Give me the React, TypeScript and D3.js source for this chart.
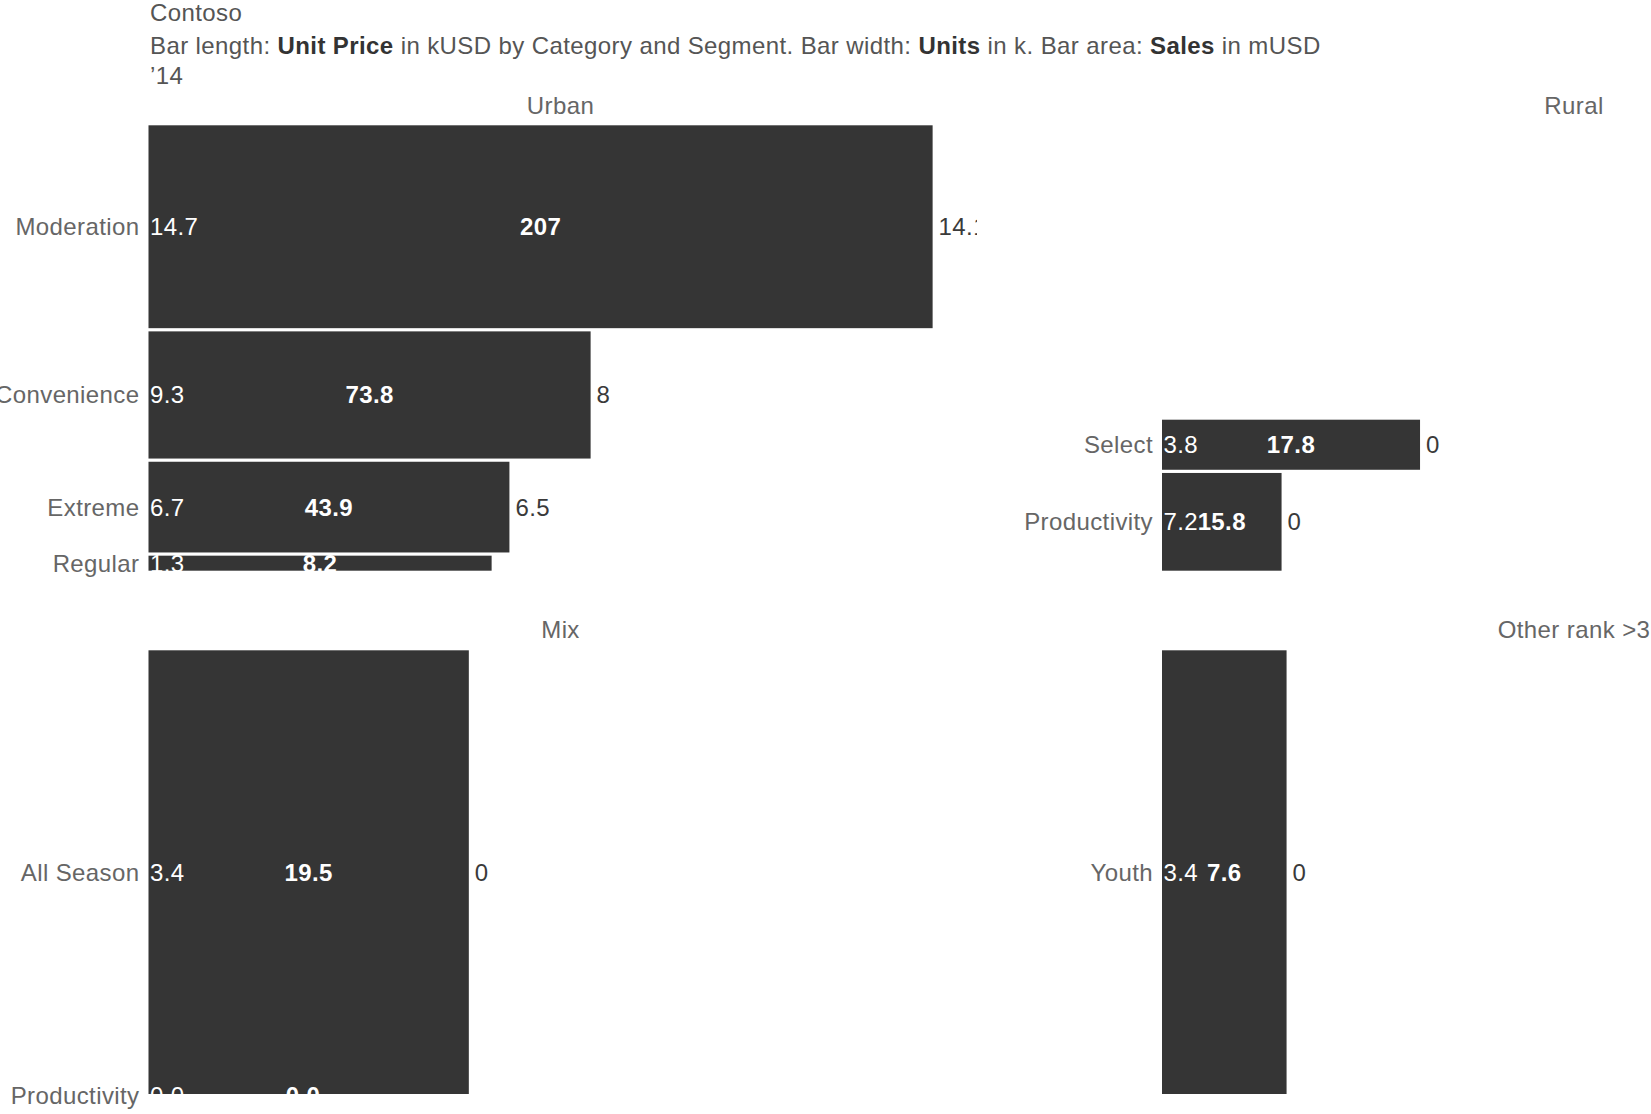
import React from "react";
import * as d3 from "d3";

// ---------- data ----------
const chartTitle = "Contoso";
const yearLabel = "\u201914";
const panelTitles = ["Urban", "Rural", "Mix", "Other rank >3"];

const urbanCategories = ["Moderation", "Convenience", "Extreme", "Regular"];
const urbanUnits = [14.7, 9.3, 6.7, 1.3];
const urbanPrice = [14.1, 7.95, 6.49, 6.17];
const urbanSales = [207, 73.8, 43.9, 8.2];
const urbanRight = ["14.1", "8", "6.5", ""];

const ruralCategories = ["Select", "Productivity"];
const ruralUnits = [3.8, 7.2];
const ruralPrice = [4.64, 2.15];
const ruralSales = [17.8, 15.8];
const ruralRight = ["0", "0"];

const mixCategories = ["All Season", "Productivity"];
const mixUnits = [3.4, 0];
const mixPrice = [5.76, 5.56];
const mixSales = [19.5, 0];
const mixRight = ["0", ""];

const otherCategories = ["Youth"];
const otherUnits = [3.4];
const otherPrice = [2.24];
const otherSales = [7.6];
const otherRight = ["0"];

const priceDomainMax = 14.88;

// ---------- layout ----------
const W = 1651;
const H = 1114;
const FONT = "'Liberation Sans', Arial, Helvetica, sans-serif";
const FS = 24;
const LS = 0.4;
const COL_X = [148.5, 1162];
const PANEL_W = 827.5;
const GAP = 3.2;
// visible bars end at `bottom`; each bar slot is units*scale, the bar keeps GAP px free at its bottom
const ROWS = [
  { top: 125.3, bottom: 570.7, headerY: 105.3 },
  { top: 650.3, bottom: 1094, headerY: 630 },
];
const BAR_FILL = "#353535";

type Panel = {
  title: string;
  col: number;
  row: number;
  cats: string[];
  units: number[];
  price: number[];
  sales: number[];
  right: string[];
};

const panels: Panel[] = [
  { title: panelTitles[0], col: 0, row: 0, cats: urbanCategories, units: urbanUnits, price: urbanPrice, sales: urbanSales, right: urbanRight },
  { title: panelTitles[1], col: 1, row: 0, cats: ruralCategories, units: ruralUnits, price: ruralPrice, sales: ruralSales, right: ruralRight },
  { title: panelTitles[2], col: 0, row: 1, cats: mixCategories, units: mixUnits, price: mixPrice, sales: mixSales, right: mixRight },
  { title: panelTitles[3], col: 1, row: 1, cats: otherCategories, units: otherUnits, price: otherPrice, sales: otherSales, right: otherRight },
];

const xScale = d3.scaleLinear().domain([0, priceDomainMax]).range([0, PANEL_W]);

// one units scale per row, shared by the panels of that row
const rowScales = ROWS.map((r, ri) => {
  const rowPanels = panels.filter((p) => p.row === ri);
  const maxTotal = d3.max(rowPanels, (p) => d3.sum(p.units)) as number;
  return d3.scaleLinear().domain([0, maxTotal]).range([0, r.bottom + GAP - r.top]);
});

const fmtUnits = d3.format(".1f");
const fmtSales = (v: number) => (v >= 100 ? d3.format(".0f")(v) : d3.format(".1f")(v));

function PanelView({ p }: { p: Panel }) {
  const x0 = COL_X[p.col];
  const row = ROWS[p.row];
  const ys = rowScales[p.row];
  const bars: { top: number; bot: number; i: number }[] = [];
  let cursor = row.bottom + GAP;
  for (let i = p.units.length - 1; i >= 0; i--) {
    const slot = ys(p.units[i]);
    const top = cursor - slot;
    const bot = cursor - GAP;
    bars.unshift({ top, bot, i });
    cursor = top;
  }
  return (
    <g>
      <text x={x0 + 412} y={row.headerY} dy="0.35em" textAnchor="middle" fill="#666" fontSize={FS}>
        {p.title}
      </text>
      {bars.map(({ top, bot, i }) => {
        const len = xScale(p.price[i]);
        const cy = (top + bot) / 2;
        const h = bot - top;
        return (
          <g key={p.cats[i] + i}>
            {h > 0 && len > 0 && <rect x={x0} y={top} width={len} height={h} fill={BAR_FILL} />}
            <text x={x0 - 9} y={cy} dy="0.35em" textAnchor="end" fill="#666" fontSize={FS}>
              {p.cats[i]}
            </text>
            <text x={x0 + 1.5} y={cy} dy="0.35em" fill="#fff" fontSize={FS}>
              {fmtUnits(p.units[i])}
            </text>
            <text x={x0 + len / 2} y={cy} dy="0.35em" textAnchor="middle" fill="#fff" fontSize={FS} fontWeight="bold">
              {fmtSales(p.sales[i])}
            </text>
            {p.right[i] !== "" && (
              <text x={x0 + len + 6} y={cy} dy="0.35em" fill="#3a3a3a" fontSize={FS}>
                {p.right[i]}
              </text>
            )}
          </g>
        );
      })}
    </g>
  );
}

export default function App() {
  return (
    <div style={{ position: "fixed", left: 0, top: 0, width: W, height: H, overflow: "hidden", background: "#fff" }}>
      <svg width={W} height={H} style={{ display: "block", fontFamily: FONT, letterSpacing: LS }}>
        <defs>
          <clipPath id="leftCol">
            <rect x={-20} y={0} width={997} height={H} />
          </clipPath>
        </defs>
        <text x={150} y={12.6} dy="0.35em" fill="#555" fontSize={FS}>
          {chartTitle}
        </text>
        <text x={150} y={45.3} dy="0.35em" fill="#555" fontSize={FS}>
          <tspan>Bar length: </tspan>
          <tspan fontWeight="bold" fill="#333">Unit Price</tspan>
          <tspan> in kUSD by Category and Segment. Bar width: </tspan>
          <tspan fontWeight="bold" fill="#333">Units</tspan>
          <tspan> in k. Bar area: </tspan>
          <tspan fontWeight="bold" fill="#333">Sales</tspan>
          <tspan> in mUSD</tspan>
        </text>
        <text x={150} y={76} dy="0.35em" fill="#555" fontSize={FS}>
          {yearLabel}
        </text>
        {panels.map((p) =>
          p.col === 0 ? (
            <g key={p.title} clipPath="url(#leftCol)">
              <PanelView p={p} />
            </g>
          ) : (
            <g key={p.title}>
              <PanelView p={p} />
            </g>
          )
        )}
      </svg>
    </div>
  );
}
